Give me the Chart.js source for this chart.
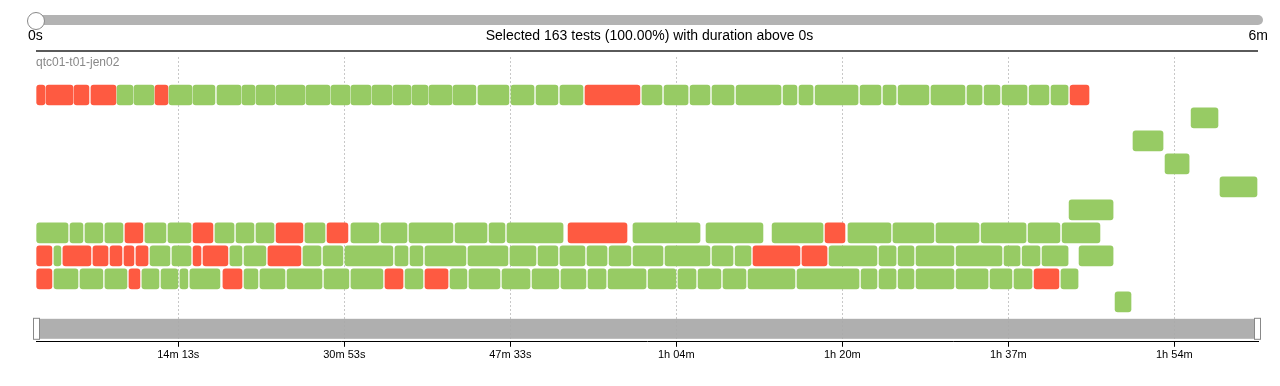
<!DOCTYPE html>
<html>
<head>
<meta charset="utf-8">
<script src="https://cdn.jsdelivr.net/npm/chart.js@4"></script>
<style>
body { margin: 0; width: 1280px; height: 386px; overflow: hidden; background: #fff;
       font-family: "Liberation Sans", Arial, Helvetica, sans-serif; position: relative; }
canvas { position: absolute; left: 0; top: 0; }
.track { position: absolute; left: 36px; top: 15px; width: 1227px; height: 10px; border-radius: 5px; background: #b3b3b3; }
.knob { position: absolute; left: 27px; top: 12px; width: 16px; height: 16px; border-radius: 50%; background: #fff; border: 1px solid #888; }
.lbl { position: absolute; top: 27px; font-size: 14px; line-height: 16px; color: #000; }
.rule { position: absolute; left: 36px; top: 50px; width: 1222px; height: 2px; background: #5a5a5a; }
.host { position: absolute; left: 36px; top: 55px; font-size: 12px; line-height: 14px; color: #888; }
</style>
</head>
<body>
<canvas id="timeline" width="1280" height="386"></canvas>
<div class="track"></div>
<div class="knob"></div>
<div class="lbl" style="left:28px">0s</div>
<div class="lbl" style="left:36px;width:1227px;text-align:center">Selected 163 tests (100.00%) with duration above 0s</div>
<div class="lbl" style="right:12px">6m</div>
<div class="rule"></div>
<div class="host">qtc01-t01-jen02</div>
<script>
// test runs per executor lane: [start, end] in seconds from the first start
const lane0 = [[0,50],[56,219],[225,315],[327,478],[484,580],[586,707],[713,791],[797,936],[942,1074],[1086,1231],
    [1237,1315],[1321,1436],[1442,1616],[1622,1767],[1773,1887],[1893,2014],[2020,2140],[2146,2255],[2261,2357],[2363,2502],
    [2508,2646],[2658,2845],[2857,2996],[3008,3140],[3152,3291],[3303,3634],[3646,3767],[3779,3924],[3936,4056],[4068,4201],
    [4213,4484],[4496,4580],[4592,4677],[4689,4948],[4960,5086],[5098,5177],[5189,5375],[5387,5592],[5604,5695],[5707,5803],
    [5815,5966],[5978,6098],[6110,6213],[6225,6339]];
const lane1 = [[6954,7116]];
const lane2 = [[6604,6785]];
const lane3 = [[6797,6942]];
const lane4 = [[7128,7351]];
const lane5 = [[6219,6484]];
const lane6 = [[0,189],[201,279],[291,399],[411,520],[532,640],[652,779],[791,930],[942,1062],[1074,1189],[1201,1309],
    [1321,1430],[1442,1604],[1616,1737],[1749,1875],[1893,2062],[2074,2231],[2243,2508],[2520,2713],[2725,2821],[2833,3171],
    [3201,3556],[3592,3996],[4032,4375],[4430,4737],[4749,4869],[4887,5146],[5158,5405],[5417,5677],[5689,5960],[5972,6164],
    [6177,6405]];
const lane7 = [[0,92],[104,146],[158,327],[339,430],[442,514],[526,586],[598,671],[683,803],[815,930],[942,990],
    [1002,1152],[1164,1237],[1249,1381],[1393,1592],[1604,1713],[1725,1845],[1857,2146],[2158,2237],[2249,2327],[2339,2586],
    [2598,2839],[2851,3008],[3020,3140],[3152,3303],[3315,3436],[3448,3580],[3592,3773],[3785,4056],[4068,4195],[4207,4303],
    [4315,4598],[4610,4761],[4773,5062],[5074,5177],[5189,5285],[5297,5526],[5538,5815],[5827,5924],[5936,6044],[6056,6213],
    [6279,6484]];
const lane8 = [[0,92],[104,249],[261,399],[411,544],[556,622],[634,737],[749,851],[863,911],[923,1104],[1122,1237],
    [1249,1333],[1345,1496],[1508,1719],[1731,1881],[1893,2086],[2098,2207],[2219,2327],[2339,2478],[2490,2592],[2604,2791],
    [2803,2972],[2984,3146],[3158,3309],[3321,3430],[3442,3671],[3683,3851],[3863,3972],[3984,4122],[4134,4273],[4285,4568],
    [4580,4954],[4966,5062],[5074,5177],[5189,5285],[5297,5526],[5538,5731],[5743,5875],[5887,5996],[6008,6158],[6170,6273]];
const lane9 = [[6496,6592]];

// indexes of failed tests in each lane
const lane0Failed = [0, 1, 2, 3, 6, 25, 43];
const lane6Failed = [4, 7, 11, 13, 20, 24];
const lane7Failed = [0, 2, 3, 4, 5, 6, 9, 10, 13, 30, 31];
const lane8Failed = [0, 4, 9, 15, 17, 38];

const tickSeconds = [853, 1853, 2853, 3853, 4853, 5853, 6853];
const tickLabels = ['14m 13s', '30m 53s', '47m 33s', '1h 04m', '1h 20m', '1h 37m', '1h 54m'];

const colors = { passed: '#97cb64', failed: '#fe5a41', grid: '#c8c8c8', brush: 'rgba(168,168,168,0.92)' };

const lanes = [lane0, lane1, lane2, lane3, lane4, lane5, lane6, lane7, lane8, lane9];
const failedByLane = [lane0Failed, [], [], [], [], [], lane6Failed, lane7Failed, lane8Failed, []];

const points = [];
const barColors = [];
lanes.forEach((lane, li) => {
    lane.forEach((run, ri) => {
        points.push({ x: run, y: li });
        barColors.push(failedByLane[li].includes(ri) ? colors.failed : colors.passed);
    });
});

// the range brush under the lanes
const brushPlugin = {
    id: 'brush',
    afterDatasetsDraw(chart) {
        const { ctx, chartArea: a } = chart;
        const top = a.bottom - 23;
        ctx.save();
        ctx.fillStyle = colors.brush;
        ctx.fillRect(a.left, top, a.right - a.left, 20);
        ctx.fillStyle = '#fff';
        ctx.strokeStyle = '#888';
        ctx.lineWidth = 1;
        [a.left - 3, a.right - 4].forEach(x => {
            ctx.fillRect(x + 0.5, top - 1 + 0.5, 6, 21);
            ctx.strokeRect(x + 0.5, top - 1 + 0.5, 6, 21);
        });
        ctx.restore();
    }
};

new Chart(document.getElementById('timeline'), {
    type: 'bar',
    data: {
        datasets: [{
            data: points,
            backgroundColor: barColors,
            barThickness: 20,
            borderRadius: 3,
            borderSkipped: false,
            borderWidth: 0
        }]
    },
    options: {
        indexAxis: 'y',
        responsive: false,
        animation: false,
        events: [],
        layout: { padding: { left: 36, right: 22, top: 57, bottom: 22 } },
        plugins: {
            legend: { display: false },
            tooltip: { enabled: false }
        },
        scales: {
            y: { type: 'linear', display: false, reverse: true, offset: false, min: -1.652, max: 10.739 },
            x: {
                type: 'linear',
                position: 'bottom',
                min: -4,
                max: 7357,
                afterBuildTicks: scale => { scale.ticks = tickSeconds.map(v => ({ value: v })); },
                ticks: {
                    callback: (v, i) => tickLabels[i],
                    color: '#000',
                    font: { size: 11, family: '"Liberation Sans", Arial, sans-serif' },
                    padding: 2,
                    maxRotation: 0,
                    autoSkip: false
                },
                grid: { color: colors.grid, tickColor: '#000', tickLength: 5, tickBorderDash: [] },
                border: { color: '#000', width: 1, dash: [2, 2] }
            }
        }
    },
    plugins: [brushPlugin]
});
</script>
</body>
</html>
